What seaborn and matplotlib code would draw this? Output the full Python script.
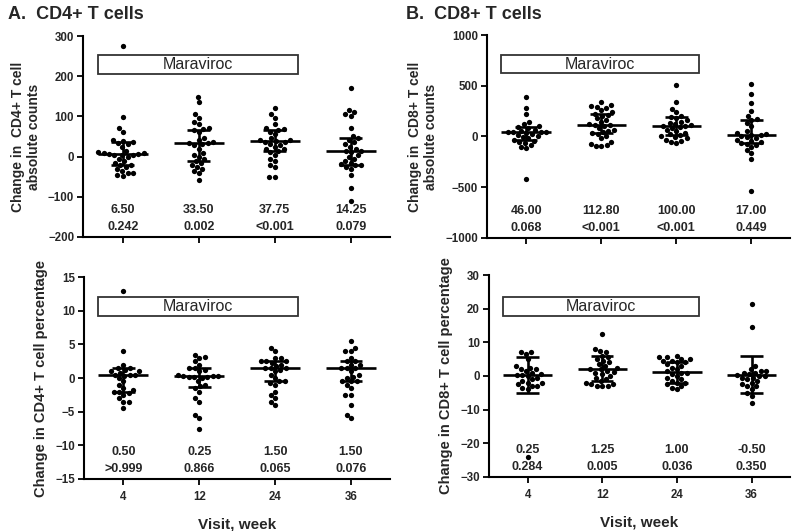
import numpy as np
import pandas as pd
import matplotlib
matplotlib.use("Agg")
import matplotlib.pyplot as plt
import matplotlib.transforms as mtransforms
from matplotlib.patches import Rectangle
import seaborn as sns

weeks = ["4", "12", "24", "36"]

# CD4+ absolute counts, change from baseline
cd4_abs_w4 = [275, 98, 70, 60, 40, 38, 35, 33, 30, 25, 15, 12, 10, 8, 7, 6, 5, 5, 3, 0,
              -5, -10, -15, -20, -22, -25, -30, -35, -40, -45, -48, -42]
cd4_abs_w12 = [148, 135, 105, 95, 85, 80, 70, 68, 65, 60, 45, 40, 35, 33, 34, 30, 28, 20, 10, 5,
               0, -5, -10, -15, -20, -25, -30, -35, -40, -58]
cd4_abs_w24 = [122, 105, 95, 80, 70, 68, 65, 62, 55, 45, 42, 40, 38, 37, 35, 30, 28, 25, 20, 18,
               15, 12, 5, -5, -10, -20, -25, -50, -50]
cd4_abs_w36 = [170, 115, 112, 105, 102, 70, 50, 45, 40, 35, 30, 25, 20, 15, 14, 12, 5, 0, -5, -10,
               -15, -18, -20, -22, -25, -30, -45, -78, -112]
cd4_abs_med = [6.5, 33.5, 37.75, 14.25]
cd4_abs_lo = [-20, -10, 15, -20]
cd4_abs_hi = [35, 65, 65, 45]
cd4_abs_medtxt = ["6.50", "33.50", "37.75", "14.25"]
cd4_abs_ptxt = ["0.242", "0.002", "<0.001", "0.079"]

# CD8+ absolute counts
cd8_abs_w4 = [390, 280, 220, 140, 120, 100, 90, 80, 60, 50, 48, 46, 45, 40, 30, 20, 10, 0,
              -10, -20, -30, -40, -50, -60, -80, -100, -110, -420]
cd8_abs_w12 = [340, 310, 300, 290, 280, 260, 240, 225, 210, 200, 180, 160, 140, 120, 115, 110,
               100, 80, 60, 50, 40, 35, 20, 0, -20, -50, -70, -80, -90, -90]
cd8_abs_w24 = [510, 340, 270, 240, 200, 190, 180, 160, 140, 130, 120, 110, 100, 100, 90, 80,
               60, 50, 30, 20, 10, 0, -10, -20, -30, -40, -50, -60]
cd8_abs_w36 = [520, 420, 330, 250, 200, 170, 160, 130, 100, 50, 30, 20, 17, 10, 0, -10, -20,
               -30, -40, -50, -60, -70, -80, -100, -130, -160, -220, -540]
cd8_abs_med = [46, 112.8, 100, 17]
cd8_abs_lo = [-30, 35, 10, -60]
cd8_abs_hi = [90, 225, 190, 165]
cd8_abs_medtxt = ["46.00", "112.80", "100.00", "17.00"]
cd8_abs_ptxt = ["0.068", "<0.001", "<0.001", "0.449"]

# CD4+ percentage
cd4_pct_w4 = [13, 4, 2, 1.5, 1.5, 1.2, 1.0, 1.0, 0.8, 0.5, 0.5, 0.5, 0.3, 0, -0.5, -1, -1.5,
              -1.8, -2, -2, -2.2, -2.5, -3, -3.5, -3.5, -4.5]
cd4_pct_w12 = [3.5, 3.2, 3.0, 2.5, 2.0, 1.5, 1.5, 1.2, 1.0, 0.5, 0.3, 0.3, 0.25, 0.2, 0.2, 0.1,
               0, -0.5, -1.0, -1.2, -1.5, -2, -3, -3.5, -5.5, -6, -7.5]
cd4_pct_w24 = [4.5, 4.0, 3.0, 3.0, 2.5, 2.5, 2.5, 2.3, 2.0, 1.8, 1.5, 1.5, 1.5, 1.2, 1.0, 0.5,
               0, -0.5, -0.5, -0.8, -1.0, -2.0, -2.5, -3.0, -3.5, -4.0]
cd4_pct_w36 = [5.5, 4.5, 4.0, 4.0, 3.0, 2.5, 2.5, 2.0, 2.0, 1.5, 1.5, 1.5, 1.0, 0.5, 0.2, 0,
               -0.5, -0.5, -0.5, -1.0, -1.5, -2.5, -2.5, -4.0, -5.5, -6.0]
cd4_pct_med = [0.5, 0.25, 1.5, 1.5]
cd4_pct_lo = [-2, -1.3, -0.5, -0.5]
cd4_pct_hi = [1.5, 1.5, 2.5, 2.5]
cd4_pct_medtxt = ["0.50", "0.25", "1.50", "1.50"]
cd4_pct_ptxt = [">0.999", "0.866", "0.065", "0.076"]

# CD8+ percentage
cd8_pct_w4 = [7, 7, 6.5, 5, 3, 2.5, 2, 2, 1.5, 1, 0.5, 0.3, 0.25, 0, -0.5, -1, -1.5, -2, -2,
              -2.5, -3, -3, -3.5, -4, -24]
cd8_pct_w12 = [12.5, 8, 7.5, 7, 6, 5.5, 5, 4.5, 4, 3.5, 3, 2.5, 2, 2, 1.5, 1.25, 1, 0.5, 0,
               -0.5, -1, -1.5, -2, -2.5, -2.5, -3, -3, -3]
cd8_pct_w24 = [6, 5.5, 5.5, 5, 5, 4.5, 4.5, 4, 4, 3.5, 3, 2.5, 2, 1.5, 1, 1, 0.5, 0, -0.5, -1,
               -1.5, -2, -2, -2.5, -3, -3.5, -4]
cd8_pct_w36 = [21.5, 14.5, 3, 2, 1.5, 1.5, 1, 1, 0.5, 0.3, 0, 0, -0.5, -0.5, -1, -1.5, -2,
               -2.5, -3, -3, -4, -5, -6, -8]
cd8_pct_med = [0.25, 2.0, 1.2, 0.3]
cd8_pct_lo = [-5, -1.5, -2, -5]
cd8_pct_hi = [5.5, 6, 4, 6]
cd8_pct_medtxt = ["0.25", "1.25", "1.00", "-0.50"]
cd8_pct_ptxt = ["0.284", "0.005", "0.036", "0.350"]

sns.set_theme(style="ticks")
plt.rcParams["font.family"] = ["Liberation Sans", "DejaVu Sans"]
plt.rcParams["font.weight"] = "bold"


def long_df(groups):
    rows = []
    for wk, vals in zip(weeks, groups):
        for v in vals:
            rows.append((wk, v))
    return pd.DataFrame(rows, columns=["week", "value"])


def panel(ax, groups, med, lo, hi, medtxt, ptxt, ylim, yticks, box_y, ylabel,
          ylabel_size, bottom):
    df = long_df(groups)
    sns.swarmplot(data=df, x="week", y="value", order=weeks, color="black",
                  size=3.8, ax=ax, zorder=2)
    xs = np.arange(len(weeks))
    ax.hlines(med, xs - 0.33, xs + 0.33, color="black", lw=1.9, zorder=3)
    ax.hlines(lo, xs - 0.15, xs + 0.15, color="black", lw=1.9, zorder=3)
    ax.hlines(hi, xs - 0.15, xs + 0.15, color="black", lw=1.9, zorder=3)
    ax.vlines(xs, lo, hi, color="black", lw=1.9, zorder=3)

    ax.add_patch(Rectangle((-0.33, box_y[0]), 2.63, box_y[1] - box_y[0],
                           facecolor="white", edgecolor="#333333", lw=1.3, zorder=4))
    ax.text(0.985, (box_y[0] + box_y[1]) / 2, "Maraviroc", ha="center", va="center",
            fontsize=11.5, fontweight="normal", zorder=5)

    trans = mtransforms.blended_transform_factory(ax.transData, ax.transAxes)
    for x, m, p in zip(xs, medtxt, ptxt):
        ax.text(x, 0.135, m, ha="center", va="center", fontsize=9,
                fontweight="bold", transform=trans)
        ax.text(x, 0.05, p, ha="center", va="center", fontsize=9,
                fontweight="bold", transform=trans)

    ax.set_xlim(-0.52, 3.52)
    ax.set_ylim(*ylim)
    ax.set_yticks(yticks)
    sns.despine(ax=ax)
    for s in ["left", "bottom"]:
        ax.spines[s].set_linewidth(1.5)
        ax.spines[s].set_color("black")
    ax.tick_params(axis="both", direction="out", length=4, width=1.3,
                   labelsize=8.3, color="black", pad=2.5)
    ax.tick_params(axis="x", pad=5)
    for lab in ax.get_yticklabels() + ax.get_xticklabels():
        lab.set_fontweight("bold")
    ax.set_ylabel(ylabel, fontsize=ylabel_size, fontweight="bold", labelpad=5)
    if bottom:
        ax.set_xlabel("Visit, week", fontsize=11, fontweight="bold", labelpad=10)
    else:
        ax.set_xlabel("")
        ax.set_xticklabels([])


fig = plt.figure(figsize=(8, 5.31), dpi=100)
ax1 = fig.add_axes([0.104, 0.554, 0.384, 0.378])
ax2 = fig.add_axes([0.609, 0.552, 0.379, 0.382])
ax3 = fig.add_axes([0.105, 0.098, 0.383, 0.380])
ax4 = fig.add_axes([0.611, 0.102, 0.377, 0.380])

panel(ax1, [cd4_abs_w4, cd4_abs_w12, cd4_abs_w24, cd4_abs_w36], cd4_abs_med, cd4_abs_lo,
      cd4_abs_hi, cd4_abs_medtxt, cd4_abs_ptxt, (-200, 300), [-200, -100, 0, 100, 200, 300],
      (205, 253), "Change in  CD4+ T cell\nabsolute counts", 10, False)
panel(ax2, [cd8_abs_w4, cd8_abs_w12, cd8_abs_w24, cd8_abs_w36], cd8_abs_med, cd8_abs_lo,
      cd8_abs_hi, cd8_abs_medtxt, cd8_abs_ptxt, (-1000, 1000), [-1000, -500, 0, 500, 1000],
      (626, 803), "Change in  CD8+ T cell\nabsolute counts", 10, False)
panel(ax3, [cd4_pct_w4, cd4_pct_w12, cd4_pct_w24, cd4_pct_w36], cd4_pct_med, cd4_pct_lo,
      cd4_pct_hi, cd4_pct_medtxt, cd4_pct_ptxt, (-15, 15), [-15, -10, -5, 0, 5, 10, 15],
      (9.3, 12.0), "Change in CD4+ T cell percentage", 10.5, True)
panel(ax4, [cd8_pct_w4, cd8_pct_w12, cd8_pct_w24, cd8_pct_w36], cd8_pct_med, cd8_pct_lo,
      cd8_pct_hi, cd8_pct_medtxt, cd8_pct_ptxt, (-30, 30), [-30, -20, -10, 0, 10, 20, 30],
      (17.8, 23.5), "Change in CD8+ T cell percentage", 10.5, True)

fig.text(0.01, 0.972, "A.  CD4+ T cells", fontsize=13, fontweight="bold", va="center")
fig.text(0.507, 0.972, "B.  CD8+ T cells", fontsize=13, fontweight="bold", va="center")

fig.savefig("out.png", dpi=100, facecolor="white")
